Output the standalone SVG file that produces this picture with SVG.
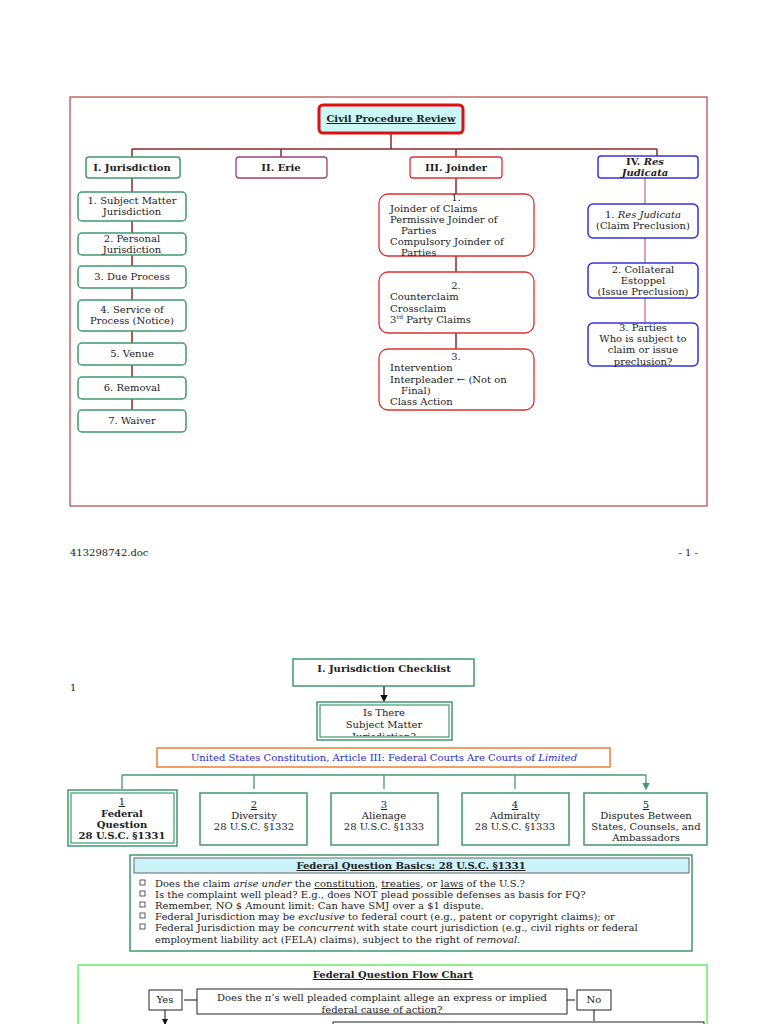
<svg xmlns="http://www.w3.org/2000/svg" width="768" height="1024" viewBox="0 0 768 1024">
<defs>
<style>
text{font-family:"DejaVu Serif","Liberation Serif",serif;font-size:10px;fill:#222}
.c{text-anchor:middle}
.b{font-weight:bold}
.g{fill:#fff;stroke:#3f9a6e;stroke-width:1.5}
.r{fill:#fff;stroke:#e03030;stroke-width:1.3}
.bl{fill:#fff;stroke:#3333dd;stroke-width:1.5}
.k{fill:#fff;stroke:#222;stroke-width:1}
.lr{stroke:#8b2a2a;stroke-width:1.5;fill:none}
.lg{stroke:#3f9a6e;stroke-width:1.3;fill:none}
</style>
<marker id="ag" markerWidth="6" markerHeight="6" refX="5" refY="3" orient="auto"><path d="M0,0L6,3L0,6z" fill="#3f9a6e"/></marker>
<marker id="ak" markerWidth="6" markerHeight="6" refX="5" refY="3" orient="auto"><path d="M0,0L6,3L0,6z" fill="#111"/></marker>
</defs>
<rect width="768" height="1024" fill="#fff"/>
<rect x="70" y="97" width="637" height="409" fill="none" stroke="#a02020" stroke-width="1"/>
<g id="connectors">
<path class="lr" d="M391,133V149M132,149H657M132,149V157M281,149V157M456,149V157M657,149V156"/>
<path class="lr" d="M132,178V192M132,221V233M132,255V266M132,288V300M132,331V343M132,365V377M132,399V410"/>
<path class="lr" d="M456,178V194M456,256V272M456,333V349"/>
<path stroke="#c07090" stroke-width="1.3" d="M645,178V204M645,238V263M645,298V323"/>
<path stroke="#111" stroke-width="1.3" d="M384,686V701" marker-end="url(#ak)"/>
<path class="lg" d="M122,775H646"/>
<path class="lg" d="M122,775V789M254,775V789M384,775V789M515,775V789M646,775V789" marker-end="url(#ag)"/>
<path stroke="#111" stroke-width="1" d="M197,1000H184M567,1000H575M594,1010V1021M165,1010V1024" marker-end="url(#ak)"/>
</g>
<g id="title"><rect x="319" y="105" width="144" height="28" rx="4" fill="#ccf7f7" stroke="#e01010" stroke-width="3"/><text x="391" y="122" class="c b" text-decoration="underline">Civil Procedure Review</text></g>
<g id="n1"><rect class="g" x="86" y="157" width="94" height="21" rx="3"/><text x="132" y="171" class="c b">I.  Jurisdiction</text></g>
<g id="n2"><rect x="236" y="157" width="91" height="21" rx="3" fill="#fff" stroke="#a04070" stroke-width="1.3"/><text x="281" y="171" class="c b">II.  Erie</text></g>
<g id="n3"><rect class="r" x="410" y="157" width="92" height="21" rx="3"/><text x="456" y="171" class="c b">III.  Joinder</text></g>
<g id="n4"><rect class="bl" x="598" y="156" width="100" height="22" rx="3"/><text x="645" y="165" class="c b">IV.  <tspan font-style="italic">Res</tspan></text><text x="645" y="176" class="c b" font-style="italic">Judicata</text></g>
<g id="j1"><rect class="g" x="78" y="192" width="108" height="29" rx="4"/><text x="132" y="204" class="c">1. Subject Matter</text><text x="132" y="215" class="c">Jurisdiction</text></g>
<g id="j2"><rect class="g" x="78" y="233" width="108" height="22" rx="4"/><text x="132" y="242" class="c">2. Personal</text><text x="132" y="253" class="c">Jurisdiction</text></g>
<g id="j3"><rect class="g" x="78" y="266" width="108" height="22" rx="4"/><text x="132" y="280" class="c">3. Due Process</text></g>
<g id="j4"><rect class="g" x="78" y="300" width="108" height="31" rx="4"/><text x="132" y="313" class="c">4. Service of</text><text x="132" y="324" class="c">Process (Notice)</text></g>
<g id="j5"><rect class="g" x="78" y="343" width="108" height="22" rx="4"/><text x="132" y="357" class="c">5. Venue</text></g>
<g id="j6"><rect class="g" x="78" y="377" width="108" height="22" rx="4"/><text x="132" y="391" class="c">6. Removal</text></g>
<g id="j7"><rect class="g" x="78" y="410" width="108" height="22" rx="4"/><text x="132" y="424" class="c">7. Waiver</text></g>
<g id="k1"><rect class="r" x="379" y="194" width="155" height="62" rx="9"/><text x="456" y="201" class="c">1.</text><text x="390" y="212">Joinder of Claims</text><text x="390" y="223">Permissive Joinder of</text><text x="401" y="234">Parties</text><text x="390" y="245">Compulsory Joinder of</text><text x="401" y="256">Parties</text></g>
<g id="k2"><rect class="r" x="379" y="272" width="155" height="61" rx="9"/><text x="456" y="289" class="c">2.</text><text x="390" y="300">Counterclaim</text><text x="390" y="312">Crossclaim</text><text x="390" y="323">3<tspan font-size="6" dy="-4">rd</tspan><tspan dy="4"> Party Claims</tspan></text></g>
<g id="k3"><rect class="r" x="379" y="349" width="155" height="61" rx="9"/><text x="456" y="360" class="c">3.</text><text x="390" y="371">Intervention</text><text x="390" y="383">Interpleader ← (Not on</text><text x="401" y="394">Final)</text><text x="390" y="405">Class Action</text></g>
<g id="r1"><rect class="bl" x="588" y="204" width="110" height="34" rx="5"/><text x="643" y="218" class="c">1. <tspan font-style="italic">Res Judicata</tspan></text><text x="643" y="229" class="c">(Claim Preclusion)</text></g>
<g id="r2"><rect class="bl" x="588" y="263" width="110" height="35" rx="5"/><text x="643" y="273" class="c">2. Collateral</text><text x="643" y="284" class="c">Estoppel</text><text x="643" y="295" class="c">(Issue Preclusion)</text></g>
<g id="r3"><rect class="bl" x="588" y="323" width="110" height="43" rx="5"/><text x="643" y="331" class="c">3. Parties</text><text x="643" y="342" class="c">Who is subject to</text><text x="643" y="353" class="c">claim or issue</text><text x="643" y="365" class="c">preclusion?</text></g>
<text x="70" y="556">413298742.doc</text>
<text x="698" y="556" text-anchor="end">- 1 -</text>
<text x="70" y="691">1</text>
<g id="p1"><rect class="g" x="293" y="659" width="181" height="27"/><text x="384" y="672" class="c b">I.  Jurisdiction Checklist</text></g>
<g id="p2"><rect class="g" x="317" y="702" width="135" height="38"/><rect x="320" y="705" width="129" height="32" fill="none" stroke="#3f9a6e" stroke-width="1.2"/><text x="384" y="716" class="c">Is There</text><text x="384" y="728" class="c">Subject Matter</text><clipPath id="cp"><rect x="320" y="705" width="129" height="31"/></clipPath><text x="384" y="740" class="c" clip-path="url(#cp)">Jurisdiction?</text></g>
<g id="p3"><rect x="157" y="748" width="453" height="19" fill="#fff" stroke="#f08030" stroke-width="1.5"/><text x="384" y="761" class="c" style="fill:#2a2ad0">United States Constitution, Article III:  Federal Courts Are Courts of <tspan font-style="italic">Limited</tspan></text></g>
<g id="b1"><rect class="g" x="68" y="790" width="109" height="56"/><rect x="71" y="793" width="103" height="50" fill="none" stroke="#3f9a6e" stroke-width="1.2"/><text x="122" y="805" class="c" text-decoration="underline">1</text><text x="122" y="817" class="c b">Federal</text><text x="122" y="828" class="c b">Question</text><clipPath id="cq"><rect x="71" y="793" width="103" height="48"/></clipPath><text x="122" y="839" class="c b" clip-path="url(#cq)">28 U.S.C. §1331</text></g>
<g id="b2"><rect class="g" x="200" y="793" width="107" height="52"/><text x="254" y="808" class="c" text-decoration="underline">2</text><text x="254" y="819" class="c">Diversity</text><text x="254" y="830" class="c">28 U.S.C. §1332</text></g>
<g id="b3"><rect class="g" x="331" y="793" width="107" height="52"/><text x="384" y="808" class="c" text-decoration="underline">3</text><text x="384" y="819" class="c">Alienage</text><text x="384" y="830" class="c">28 U.S.C. §1333</text></g>
<g id="b4"><rect class="g" x="462" y="793" width="107" height="52"/><text x="515" y="808" class="c" text-decoration="underline">4</text><text x="515" y="819" class="c">Admiralty</text><text x="515" y="830" class="c">28 U.S.C. §1333</text></g>
<g id="b5"><rect class="g" x="584" y="793" width="123" height="52"/><text x="646" y="808" class="c" text-decoration="underline">5</text><text x="646" y="819" class="c">Disputes Between</text><text x="646" y="830" class="c">States, Counsels, and</text><text x="646" y="841" class="c">Ambassadors</text></g>
<g id="fqb"><rect class="g" x="130" y="855" width="562" height="96"/><rect x="134" y="858" width="555" height="15" fill="#ccf2fa" stroke="#666" stroke-width="1"/><text x="411" y="869" class="c b" text-decoration="underline">Federal Question Basics:  28 U.S.C. §1331</text>
<g fill="none" stroke="#333" stroke-width="0.8"><rect x="140" y="880" width="5" height="5"/><rect x="140" y="891" width="5" height="5"/><rect x="140" y="902" width="5" height="5"/><rect x="140" y="913" width="5" height="5"/><rect x="140" y="924" width="5" height="5"/></g>
<text x="155" y="887">Does the claim <tspan font-style="italic">arise under</tspan>  the <tspan text-decoration="underline">constitution</tspan>, <tspan text-decoration="underline">treaties</tspan>, or <tspan text-decoration="underline">laws</tspan> of the U.S.?</text>
<text x="155" y="898">Is the complaint well plead?  E.g., does NOT plead possible defenses as basis for FQ?</text>
<text x="155" y="909">Remember, NO $ Amount limit:  Can have SMJ over a $1 dispute.</text>
<text x="155" y="920">Federal Jurisdiction may be <tspan font-style="italic">exclusive</tspan> to federal court (e.g., patent or copyright claims); or</text>
<text x="155" y="931">Federal Jurisdiction may be <tspan font-style="italic">concurrent</tspan> with state court jurisdiction (e.g., civil rights or federal</text>
<text x="155" y="943">employment liability act (FELA) claims), subject to the right of <tspan font-style="italic">removal</tspan>.</text></g>
<g id="fqc"><rect x="78" y="965" width="629" height="70" fill="none" stroke="#66ee66" stroke-width="1.5"/><text x="393" y="978" class="c b" text-decoration="underline">Federal Question Flow Chart</text></g>
<g id="yes"><rect class="k" x="149" y="990" width="33" height="20"/><text x="165" y="1003" class="c">Yes</text></g>
<g id="q"><rect class="k" x="197" y="989" width="370" height="25"/><text x="382" y="1001" class="c">Does the π’s well pleaded complaint allege an express or implied</text><text x="382" y="1013" class="c">federal cause of action?</text></g>
<g id="no"><rect class="k" x="577" y="990" width="34" height="20"/><text x="594" y="1003" class="c">No</text></g>
<rect x="333" y="1022" width="371" height="10" fill="#fff" stroke="#222" stroke-width="1"/>
</svg>
